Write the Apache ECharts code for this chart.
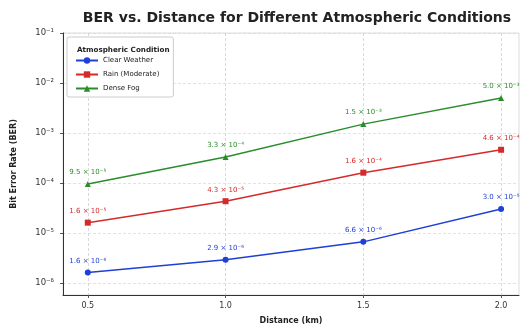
<!DOCTYPE html>
<html>
<head>
<meta charset="utf-8">
<script src="https://cdn.jsdelivr.net/npm/echarts@6/dist/echarts.min.js"></script>
<style>
	html, body { margin: 0; padding: 0; background: #fff; }
	#chart { width: 524px; height: 331px; }
</style>
</head>
<body>
<div id="chart"></div>
<script>
// values
const distances = [0.5, 1.0, 1.5, 2.0];
const xTicks = [0.5, 1.0, 1.5, 2.0];
const clearWeather = [1.6e-6, 2.9e-6, 6.6e-6, 3.0e-5];
const rainModerate = [1.6e-5, 4.3e-5, 1.6e-4, 4.6e-4];
const denseFog = [9.5e-5, 3.3e-4, 1.5e-3, 5.0e-3];
const seriesNames = ['Clear Weather', 'Rain (Moderate)', 'Dense Fog'];

const font = 'DejaVu Sans';
const sup = {'-': '\u207b', '0': '\u2070', '1': '\u00b9', '2': '\u00b2', '3': '\u00b3',
	'4': '\u2074', '5': '\u2075', '6': '\u2076', '7': '\u2077', '8': '\u2078', '9': '\u2079'};
const toSup = s => String(s).split('').map(c => sup[c] || c).join('');

function sciLabel(v) {
	let exp = Math.floor(Math.log10(v));
	let mant = v / Math.pow(10, exp);
	if (mant >= 9.95) { mant /= 10; exp += 1; }
	return mant.toFixed(1) + ' \u00d7 10' + toSup(exp);
}

function makeSeries(name, values, color, symbol, size) {
	return {
		name: name,
		type: 'line',
		data: distances.map((d, i) => [d, values[i]]),
		symbol: symbol,
		symbolSize: size,
		lineStyle: {color: color, width: 1.5},
		itemStyle: {color: color},
		label: {
			show: true,
			position: 'top',
			distance: 5,
			color: color,
			fontFamily: font,
			fontSize: 7,
			formatter: p => sciLabel(p.value[1])
		},
		z: 3
	};
}

const chart = echarts.init(document.getElementById('chart'), null, {renderer: 'canvas'});
chart.setOption({
	animation: false,
	backgroundColor: '#fff',
	textStyle: {fontFamily: font},
	title: [{
		text: 'BER vs. Distance for Different Atmospheric Conditions',
		left: 292,
		textAlign: 'center',
		top: 6,
		textStyle: {fontSize: 14, fontWeight: 'bold', color: '#222', fontFamily: font}
	}, {
		text: 'Atmospheric Condition',
		left: 72,
		top: 42,
		z: 10,
		textStyle: {fontSize: 7.2, fontWeight: 'bold', color: '#222', fontFamily: font}
	}],
	legend: {
		orient: 'vertical',
		left: 67,
		top: 37,
		padding: [20, 14, 5, 8],
		itemGap: 7,
		itemWidth: 22,
		itemHeight: 8,
		backgroundColor: '#fff',
		borderColor: '#cccccc',
		borderWidth: 1,
		borderRadius: 2,
		textStyle: {fontSize: 7, color: '#222', fontFamily: font},
		data: seriesNames
	},
	grid: {left: 63, right: 5, top: 33, bottom: 36, show: true, borderColor: '#dddddd', borderWidth: 1},
	xAxis: {
		type: 'value',
		min: 0.41,
		max: 2.065,
		name: 'Distance (km)',
		nameLocation: 'middle',
		nameGap: 22,
		nameTextStyle: {fontSize: 8, fontWeight: 'bold', color: '#222'},
		axisLine: {show: true, lineStyle: {color: '#333', width: 1}},
		axisTick: {show: true, length: 3, lineStyle: {color: '#555'}, customValues: xTicks},
		axisLabel: {
			fontSize: 8, color: '#333', margin: 7,
			customValues: xTicks,
			formatter: v => v.toFixed(1)
		},
		splitLine: {show: true, lineStyle: {color: '#cfcfcf', type: [3, 2], width: 0.8}}
	},
	yAxis: {
		type: 'log',
		logBase: 10,
		min: 5.7e-7,
		max: 0.1,
		name: 'Bit Error Rate (BER)',
		nameLocation: 'middle',
		nameGap: 45,
		nameTextStyle: {fontSize: 8, fontWeight: 'bold', color: '#222'},
		axisLine: {show: true, lineStyle: {color: '#333', width: 1}},
		axisTick: {show: true, length: 3, lineStyle: {color: '#555'}},
		axisLabel: {
			fontSize: 8.5, color: '#333', margin: 9,
			showMinLabel: false,
			formatter: v => {
				const e = Math.log10(v);
				const r = Math.round(e);
				return Math.abs(e - r) < 1e-6 ? '10' + toSup(r) : '';
			}
		},
		splitLine: {show: true, lineStyle: {color: '#dcdcdc', type: [3, 2], width: 0.8}},
		minorSplitLine: {show: false}
	},
	series: [
		makeSeries(seriesNames[0], clearWeather, '#1f3fd6', 'circle', 6),
		makeSeries(seriesNames[1], rainModerate, '#d42a2a', 'rect', 6),
		makeSeries(seriesNames[2], denseFog, '#2a8c2a', 'triangle', 6)
	]
});
</script>
</body>
</html>
